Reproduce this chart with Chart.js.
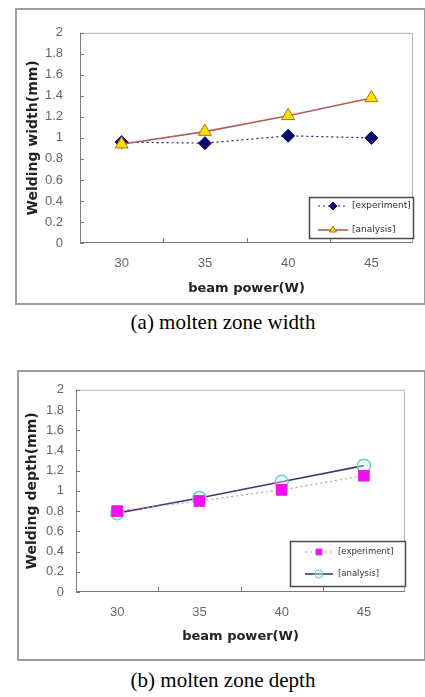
<!DOCTYPE html>
<html>
<head>
<meta charset="utf-8">
<script src="https://cdn.jsdelivr.net/npm/chart.js@4"></script>
<style>
body{margin:0;background:#fff;width:425px;height:697px;position:relative;overflow:hidden}
.box{position:absolute;border:2px solid #9c9c9c;box-sizing:border-box}
canvas{position:absolute}
.cap{position:absolute;left:0;width:446px;text-align:center;font-family:"Liberation Serif","Times New Roman",serif;font-size:21px;line-height:24px;color:#000;white-space:nowrap}
</style>
</head>
<body>
<div class="box" style="left:15px;top:8px;width:411px;height:297px"></div>
<canvas id="width" width="410" height="296" style="left:15px;top:8px"></canvas>
<div class="cap" style="top:310px">(a) molten zone width</div>

<div class="box" style="left:17px;top:370px;width:409px;height:291px"></div>
<canvas id="depth" width="408" height="290" style="left:17px;top:370px"></canvas>
<div class="cap" style="top:668px">(b) molten zone depth</div>

<script>
// beam power categories
const power = ['30', '35', '40', '45'];
// (a) welding width (mm)
const widthExp = [0.96, 0.95, 1.02, 1.0];
const widthAna = [0.94, 1.06, 1.21, 1.38];
// (b) welding depth (mm)
const depthExp = [0.8, 0.9, 1.01, 1.15];
const depthAna = [0.78, 0.93, 1.09, 1.25];
// y axis
const yMin = 0;
const yMax = 2;
const yStep = 0.2;

const FONT = '"DejaVu Sans", sans-serif';
const TICKFONT = '"Liberation Sans", Arial, sans-serif';

function mark(ctx, style, x, y, r, fill, stroke, lw) {
  ctx.save();
  ctx.setLineDash([]);
  ctx.fillStyle = fill;
  ctx.strokeStyle = stroke;
  ctx.lineWidth = lw;
  ctx.beginPath();
  if (style === 'rectRot') {
    ctx.moveTo(x, y - r); ctx.lineTo(x + r, y); ctx.lineTo(x, y + r); ctx.lineTo(x - r, y);
    ctx.closePath();
  } else if (style === 'triangle') {
    ctx.moveTo(x, y - r); ctx.lineTo(x + r * 0.866, y + r / 2); ctx.lineTo(x - r * 0.866, y + r / 2);
    ctx.closePath();
  } else if (style === 'rect') {
    let s = r * Math.SQRT1_2;
    ctx.rect(x - s, y - s, 2 * s, 2 * s);
  } else {
    ctx.arc(x, y, r, 0, Math.PI * 2);
  }
  ctx.fill();
  ctx.stroke();
  ctx.restore();
}

// plot frame, inner tick marks and the boxed legend
const frame = {
  id: 'frame',
  beforeDatasetsDraw(chart) {
    const {ctx, chartArea: a, scales: {x, y}} = chart;
    ctx.save();
    ctx.lineWidth = 1;
    ctx.strokeStyle = '#b4b4b4';
    ctx.beginPath();
    ctx.moveTo(a.left, a.top + 0.5); ctx.lineTo(a.right - 0.5, a.top + 0.5); ctx.lineTo(a.right - 0.5, a.bottom);
    ctx.stroke();
    ctx.strokeStyle = '#7a7a7a';
    ctx.beginPath();
    ctx.moveTo(a.left + 0.5, a.top); ctx.lineTo(a.left + 0.5, a.bottom - 0.5); ctx.lineTo(a.right, a.bottom - 0.5);
    ctx.stroke();
    ctx.beginPath();
    y.ticks.forEach(t => {
      let py = Math.round(y.getPixelForValue(t.value)) + 0.5;
      ctx.moveTo(a.left, py); ctx.lineTo(a.left + 4, py);
    });
    for (let i = 0; i < power.length - 1; i++) {
      let px = Math.round((x.getPixelForTick(i) + x.getPixelForTick(i + 1)) / 2) + 0.5;
      ctx.moveTo(px, a.bottom); ctx.lineTo(px, a.bottom - 5);
    }
    ctx.stroke();
    ctx.restore();
  },
  afterDatasetsDraw(chart, args, o) {
    const {ctx, chartArea: a} = chart;
    let bx = a.right - o.w + 1, by = a.bottom - o.h - o.gap;
    ctx.save();
    ctx.fillStyle = '#fff';
    ctx.fillRect(bx, by, o.w, o.h);
    ctx.strokeStyle = '#4a4a4a';
    ctx.lineWidth = 1.5;
    ctx.strokeRect(bx + 0.5, by + 0.5, o.w - 1, o.h - 1);
    chart.data.datasets.forEach((ds, i) => {
      let ry = by + o.rows[i];
      ctx.strokeStyle = ds.borderColor;
      ctx.lineWidth = ds.borderWidth;
      ctx.setLineDash(ds.borderDash || []);
      ctx.beginPath();
      ctx.moveTo(bx + o.x0, ry); ctx.lineTo(bx + o.x1, ry);
      ctx.stroke();
      mark(ctx, ds.pointStyle, bx + (o.x0 + o.x1) / 2, ry, o.r, ds.pointBackgroundColor, ds.pointBorderColor, 1);
      ctx.fillStyle = '#333';
      ctx.font = o.size + 'px ' + FONT;
      ctx.textBaseline = 'middle';
      ctx.fillText(ds.label, bx + o.tx, ry);
    });
    ctx.restore();
  }
};

function makeChart(id, yTitle, exp, ana, lay) {
  return new Chart(document.getElementById(id), {
    type: 'line',
    data: {
      labels: power,
      datasets: [
        {
          label: '[experiment]',
          data: exp,
          borderColor: lay.expLine,
          borderWidth: 1.2,
          borderDash: [2, 3],
          pointStyle: lay.expStyle,
          pointRadius: lay.expR,
          pointBackgroundColor: lay.expFill,
          pointBorderColor: lay.expFill,
          pointBorderWidth: 1,
          order: lay.expOrder
        },
        {
          label: '[analysis]',
          data: ana,
          borderColor: lay.anaLine,
          borderWidth: 1.6,
          pointStyle: lay.anaStyle,
          pointRadius: lay.anaR,
          pointBackgroundColor: lay.anaFill,
          pointBorderColor: lay.anaEdge,
          pointBorderWidth: lay.anaBW,
          order: 1 - lay.expOrder
        }
      ]
    },
    options: {
      responsive: false,
      animation: false,
      clip: false,
      layout: {padding: {left: 0, top: lay.top, right: lay.right, bottom: 0}},
      plugins: {
        legend: {display: false},
        tooltip: {enabled: false},
        frame: lay.legend
      },
      scales: {
        x: {
          offset: true,
          grid: {display: false, drawTicks: false},
          border: {display: false},
          ticks: {color: '#666', padding: lay.xPad, font: {family: TICKFONT, size: 13}},
          title: {display: true, text: 'beam power(W)', color: '#222', padding: {top: 0, bottom: lay.xTitlePad}, font: {family: FONT, size: 13, weight: '600'}},
          afterFit: s => { s.height = lay.xH; }
        },
        y: {
          min: yMin,
          max: yMax,
          grid: {display: false, drawTicks: false},
          border: {display: false},
          ticks: {
            stepSize: yStep,
            color: '#666',
            padding: lay.yPad,
            font: {family: TICKFONT, size: 13},
            callback: v => String(+v.toFixed(1))
          },
          title: {display: true, text: yTitle, color: '#222', padding: {top: lay.yTitlePad, bottom: 0}, font: {family: FONT, size: 14, weight: '600'}},
          afterFit: s => { s.width = lay.yW; }
        }
      }
    },
    plugins: [frame]
  });
}

makeChart('width', 'Welding width(mm)', widthExp, widthAna, {
  top: 13, right: 12, yW: 65, xH: 61, yPad: 17, xPad: 13, xTitlePad: 8, yTitlePad: 10,
  expLine: '#1c1c80', expStyle: 'rectRot', expR: 6.5, expFill: '#0a0a6e', expOrder: 1,
  anaLine: '#b45c5c', anaStyle: 'triangle', anaR: 7.5, anaFill: '#ffe000', anaEdge: '#b07000', anaBW: 1,
  legend: {w: 105, h: 42, gap: 4, rows: [9, 33], x0: 9, x1: 39, tx: 43, r: 4, size: 9}
});

makeChart('depth', 'Welding depth(mm)', depthExp, depthAna, {
  top: 12, right: 20, yW: 59, xH: 68, yPad: 12, xPad: 13, xTitlePad: 16, yTitlePad: 7,
  expLine: '#ec8a8a', expStyle: 'rect', expR: 7.5, expFill: '#ee10ee', expOrder: 0,
  anaLine: '#3c3c6c', anaStyle: 'circle', anaR: 6.5, anaFill: 'rgba(210,245,245,0.4)', anaEdge: '#70cccc', anaBW: 1.5,
  legend: {w: 116, h: 46, gap: 5, rows: [11, 33], x0: 15, x1: 43, tx: 48, r: 4, size: 8.5}
});
</script>
</body>
</html>
